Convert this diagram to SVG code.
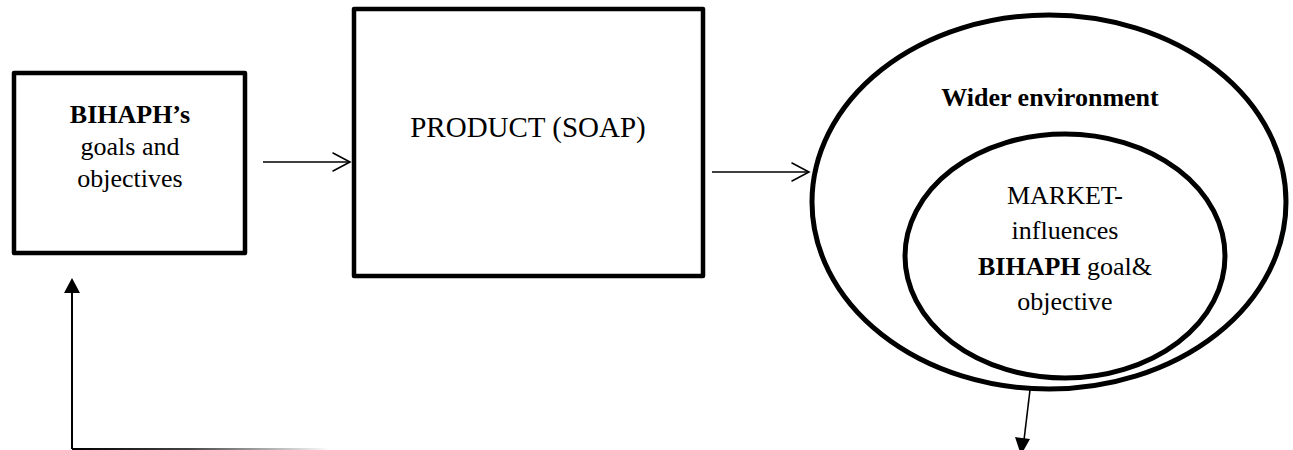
<svg xmlns="http://www.w3.org/2000/svg" width="1293" height="450" viewBox="0 0 1293 450">
  <style>
    .box { fill: #fff; stroke: #000; stroke-width: 4.5; stroke-linejoin: round; }
    .oval { fill: none; stroke: #000; stroke-width: 5; }
    .t { font-family: "Liberation Serif", "Times New Roman", serif; font-size: 26px; fill: #000; text-anchor: middle; }
    .b { font-weight: bold; }
    .line { fill: none; stroke: #000; stroke-width: 1.6; }
    .head { fill: none; stroke: #000; stroke-width: 1.6; stroke-linecap: round; stroke-linejoin: miter; }
    .solid { fill: #000; stroke: none; }
  </style>
  <defs>
    <linearGradient id="fade" gradientUnits="userSpaceOnUse" x1="72" y1="0" x2="330" y2="0">
      <stop offset="0" stop-color="#000"/>
      <stop offset="0.45" stop-color="#444"/>
      <stop offset="1" stop-color="#fff"/>
    </linearGradient>
  </defs>
  <rect width="1293" height="450" fill="#fff"/>

  <g id="goals">
    <rect class="box" x="14" y="73" width="231" height="180"/>
    <text class="t b" x="130" y="123">BIHAPH’s</text>
    <text class="t" x="130" y="155">goals and</text>
    <text class="t" x="130" y="187">objectives</text>
  </g>

  <g id="product">
    <rect class="box" x="354" y="9" width="349" height="267"/>
    <text class="t" x="528" y="137" style="font-size:29px">PRODUCT (SOAP)</text>
  </g>

  <g id="environment">
    <ellipse class="oval" cx="1049" cy="202" rx="237" ry="187"/>
    <text class="t b" x="1050" y="106">Wider environment</text>
  </g>

  <g id="market">
    <ellipse class="oval" cx="1065" cy="256" rx="160" ry="122"/>
    <text class="t" x="1065" y="204">MARKET-</text>
    <text class="t" x="1065" y="239">influences</text>
    <text class="t" x="1065" y="275"><tspan class="b">BIHAPH</tspan> goal&amp;</text>
    <text class="t" x="1065" y="310">objective</text>
  </g>

  <g id="connectors">
    <!-- goals -> product -->
    <path class="line" d="M263 162 H350"/>
    <path class="head" d="M333 153 L350 162 L333 171"/>
    <!-- product -> environment -->
    <path class="line" d="M712 172 H809"/>
    <path class="head" d="M792 163 L809 172 L792 181"/>
    <!-- outflow from environment -->
    <path class="line" d="M1030 390 L1024 440"/>
    <path class="solid" d="M1015 437 L1030 439 L1021 455 Z"/>
    <!-- feedback back to goals -->
    <path d="M72 449 H330" fill="none" stroke="url(#fade)" stroke-width="2"/>
    <path class="line" d="M72 449 V290" style="stroke-width:2"/>
    <path class="solid" d="M72 278 L80 293 L64 293 Z"/>
  </g>
</svg>
